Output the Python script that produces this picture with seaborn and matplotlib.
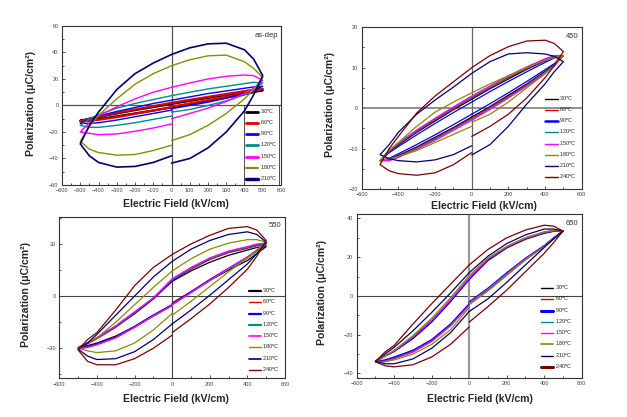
import matplotlib
matplotlib.use("Agg")
import matplotlib.pyplot as plt
import seaborn as sns
from matplotlib.ticker import MultipleLocator

# field sweep of one P-E loop: 0 -> +500 -> -500 -> 0 (kV/cm)
E_PATH = [0, 100, 200, 300, 400, 450, 500, 450, 400, 300, 200, 100, 0,
          -100, -200, -300, -400, -450, -500, -450, -400, -300, -200, -100, 0]

TEMPS = ["30", "60", "90", "120", "150", "180", "210", "240"]
COLORS = ["#000000", "#e00000", "#0000ff", "#008b8b", "#ff00ff", "#8b8b00", "#00006e", "#7a0000"]

# as-dep (no 240 C)
AD_30 = [-1.5, 1, 3.5, 6, 8.5, 10, 11.5, 11, 10, 8, 5.8, 3.5, 1.2, -1.2, -3.5, -6, -8.5, -10, -11.5, -11.2, -10.3, -8.2, -6, -3.8, -1.5]
AD_60 = [-1, 1.5, 4, 6.5, 9, 10.8, 12.5, 12, 10.8, 8.7, 6.5, 4.3, 2, -0.5, -3, -5.5, -8.5, -10, -12, -11.5, -10.8, -8.8, -6.3, -3.8, -1.2]
AD_90 = [-2.5, 0, 2.5, 5.5, 9, 11.5, 14.5, 14, 13, 11, 9, 6.5, 4, 1.5, -1.5, -4.5, -8, -10, -13.5, -13.5, -13, -11, -8.5, -6, -3.5]
AD_120 = [-5, -3, 0, 3.5, 8, 12, 17, 17.5, 16.5, 14.5, 12.5, 10, 7.4, 4.5, 1.5, -2, -7, -10, -15, -16.5, -16.5, -15, -13, -10.5, -8]
AD_150 = [-10, -6, -2, 3, 9, 13, 19, 22.5, 23, 22, 20, 17, 13.7, 10, 5, -1, -8, -13, -20, -21, -22, -21.5, -19.5, -17, -14]
AD_180 = [-26.5, -22, -15, -6, 5, 12, 21, 28, 33, 38, 37.5, 34.5, 30, 24, 16, 5, -7.5, -16, -27, -33, -35.5, -37.5, -37, -34, -30]
AD_210 = [-43.5, -40, -32, -20, -4, 8, 22.5, 35, 42, 47, 46.5, 43.5, 38.5, 32, 24, 12, -5, -15, -29, -38, -43, -46.5, -46, -43, -38]

# 450
P450_30 = [-2.2, 0.4, 3.2, 6.0, 9.1, 10.7, 13, 12.7, 11.7, 9.6, 7.2, 4.8, 2.2, -0.4, -3.2, -6.0, -9.1, -10.7, -13, -12.7, -11.7, -9.6, -7.2, -4.8, -2.2]
P450_60 = [-2.5, 0.2, 2.9, 5.8, 8.9, 10.6, 13, 12.8, 11.9, 9.8, 7.5, 5.0, 2.5, -0.2, -2.9, -5.8, -8.9, -10.6, -13, -12.8, -11.9, -9.8, -7.5, -5.0, -2.5]
P450_90 = [-1.5, 1.1, 3.8, 6.6, 9.5, 11.0, 13, 12.4, 11.3, 9.0, 6.6, 4.1, 1.5, -1.1, -3.8, -6.6, -9.5, -11.0, -13, -12.4, -11.3, -9.0, -6.6, -4.1, -1.5]
P450_120 = [-2.7, -0.1, 2.7, 5.6, 8.8, 10.5, 13, 12.9, 12.0, 10.0, 7.7, 5.2, 2.7, 0.1, -2.7, -5.6, -8.8, -10.5, -13, -12.9, -12.0, -10.0, -7.7, -5.2, -2.7]
P450_150 = [-3.0, -0.3, 2.5, 5.4, 8.6, 10.4, 13, 13.0, 12.2, 10.2, 8.0, 5.5, 3.0, 0.3, -2.5, -5.4, -8.6, -10.4, -13, -13.0, -12.2, -10.2, -8.0, -5.5, -3.0]
P450_180 = [-3.5, -1.5, 1.5, 5, 8.5, 10.5, 13, 12.5, 11.8, 10, 8, 6, 3.8, 1.5, -1, -4.5, -8.5, -10.5, -13, -12.5, -12, -10.5, -8.5, -6.5, -4.5]
P450_210 = [-11.6, -9, -4.5, 1, 6, 9, 11.5, 12.8, 13.4, 13.7, 13.4, 11.5, 8.6, 5.2, 2, -1.5, -6, -9, -11.5, -12.5, -13, -13.3, -12.8, -11.5, -9.3]
P450_240 = [-7, -4.5, -1.5, 2.5, 7.5, 10.5, 14, 16, 16.8, 16.6, 15.2, 13, 10, 6.5, 3, -1.2, -7, -10, -14, -15.5, -16.2, -16.6, -16, -14, -11]

# 550
P550_30 = [-4, 2.5, 9, 15, 20.5, 24.5, 28.5, 28, 26.5, 23.5, 19.5, 14.5, 8.5, -1.5, -10, -17.5, -24, -27, -29.5, -28.5, -27, -23, -17.5, -11, -5]
P550_60 = [-4, 2.5, 9.5, 16, 22, 26, 29.5, 29, 27.5, 25, 21, 15.5, 9, -1.5, -10, -18, -24.5, -27.5, -30, -29, -27.5, -23.5, -17.5, -11, -5]
P550_90 = [-4.5, 2.5, 9.5, 16, 22.5, 26.5, 30, 29.5, 28, 25.5, 21.5, 16, 9, -1.5, -10, -17.5, -24, -27, -30, -29, -27.5, -23.5, -17.5, -11, -5]
P550_120 = [-5, 2, 9, 15.5, 22, 26, 30, 29.5, 28, 25.5, 21.5, 16, 9.5, -1, -9.5, -17.5, -24, -27, -30, -29.5, -28, -24, -18, -11.5, -5.5]
P550_150 = [-5, 2, 9, 16, 22.5, 26.5, 30.5, 30, 28.5, 26, 22, 16.5, 10, -1, -9, -17, -24, -27, -30.5, -29.5, -28, -24, -18, -11.5, -5.5]
P550_180 = [-11, -3, 5.5, 14, 22, 26.5, 31, 32.5, 32.5, 30.5, 27, 21.5, 14.5, 5, -5, -15, -24, -27, -30, -31.5, -32.5, -31.5, -27, -19.5, -10]
P550_210 = [-16, -8, 0.5, 9.5, 18.5, 24.5, 31, 35.5, 37, 35.5, 32, 27, 20, 11, 0, -11, -22, -27, -30.5, -34.5, -36.5, -36, -32, -25, -16]
P550_240 = [-21, -13, -4.5, 5, 15.5, 23, 32, 38, 40, 39, 35, 30, 24, 16.5, 6, -8, -21, -25, -31, -37.5, -39.5, -39.5, -36, -30, -22.5]

# 650
P650_30 = [-3.5, 3.5, 11.5, 19, 25.5, 29.5, 33.5, 33.5, 32.5, 29.5, 25, 18.5, 9, -2.5, -13, -21.5, -28.5, -31, -34, -33.5, -32, -28.5, -23, -15, -4.5]
P650_60 = [-3.5, 3.5, 11.5, 19, 25.5, 29.5, 33.5, 33.3, 32.3, 29.2, 24.7, 18.2, 8.7, -2.8, -13.2, -21.8, -28.7, -31.2, -34, -33.5, -32, -28.5, -23, -15, -4.5]
P650_90 = [-3, 4, 12, 19.5, 26, 30, 33.5, 33.5, 32.5, 29.5, 25, 18.5, 8.5, -3, -13.5, -22, -28.5, -31, -34, -33, -31.5, -28, -22.5, -14.5, -4]
P650_120 = [-3.5, 3.5, 11.5, 19, 25.5, 29.5, 33.5, 33.7, 32.8, 29.8, 25.3, 19, 9.3, -2.2, -12.7, -21.2, -28.3, -31, -34, -33.7, -32.3, -28.8, -23.3, -15.3, -4.8]
P650_150 = [-4, 3, 11, 19, 25.5, 29.5, 33.5, 33.8, 33, 30, 25.5, 19.2, 9.5, -2, -12.5, -21, -28.2, -31, -34, -33.8, -32.5, -29, -23.5, -15.5, -5]
P650_180 = [-4.5, 2.5, 10.5, 18.5, 25.5, 29.5, 33.5, 33.8, 33, 30, 25.5, 19.5, 10.5, -1, -11.5, -20.5, -28, -31, -34, -34, -33, -30, -25, -17.5, -6]
P650_210 = [-8, -1.5, 7, 16, 25, 29.5, 33.5, 34.5, 34.5, 31.5, 27, 20.5, 12, 1.5, -8.5, -18, -26.5, -30, -33.5, -35, -35, -32.5, -27, -19, -8]
P650_240 = [-13.5, -5.5, 3, 12.5, 22, 27.5, 33.5, 36, 36.5, 34, 30, 24, 16, 6, -4, -14.5, -25.5, -29, -34, -36, -36.6, -35.5, -31.5, -25, -16]

sns.set_style("ticks")
plt.rcParams['font.family'] = ['Liberation Sans', 'DejaVu Sans']
plt.rcParams['axes.edgecolor'] = '#333333'
plt.rcParams['axes.linewidth'] = 0.8

fig = plt.figure(figsize=(6.27, 4.17), dpi=100)

panels = [
    # rect, curves, ylim, ymajor, yminor, tag, line widths, legend handle widths, zero line style, label coords
    dict(rect=[0.0989, 0.5564, 0.3493, 0.3813], curves=[AD_30, AD_60, AD_90, AD_120, AD_150, AD_180, AD_210],
         ylim=(-60, 60), ymaj=20, ymin=10, xmaj=100, xmin=50, tag="as-dep",
         lw=[1.6, 1.6, 1.0, 1.0, 1.0, 1.0, 1.2], hlw=[2, 2, 2, 2, 2, 1.5, 2.5],
         hz=('#555555', 0.9), vz=('#555555', 0.9), leg=(0.99, 0.0), frame=True,
         ylab=(-0.12, 0.51), xlab=(0.52, -0.088)),
    dict(rect=[0.5769, 0.5468, 0.3509, 0.3878], curves=[P450_30, P450_60, P450_90, P450_120, P450_150, P450_180, P450_210, P450_240],
         ylim=(-20, 20), ymaj=10, ymin=5, xmaj=200, xmin=100, tag="450",
         lw=[0.9] * 8, hlw=[1, 1, 1.8, 1, 1, 1, 1, 1],
         hz=('#888888', 1.3), vz=('#666666', 0.9), leg=(0.985, 0.035), frame=False,
         ylab=(-0.121, 0.52), xlab=(0.556, -0.074)),
    dict(rect=[0.0946, 0.0928, 0.3600, 0.3875], curves=[P550_30, P550_60, P550_90, P550_120, P550_150, P550_180, P550_210, P550_240],
         ylim=(-47.3, 45.7), ymaj=30, ymin=15, xmaj=200, xmin=100, tag="550",
         lw=[0.9] * 8, hlw=[1.6, 1, 1.6, 1.6, 1.2, 1, 1.2, 1],
         hz=('#444444', 0.8), vz=('#444444', 0.8), leg=(0.985, 0.015), frame=False,
         ylab=(-0.125, 0.52), xlab=(0.517, -0.097)),
    dict(rect=[0.5689, 0.0942, 0.3589, 0.3918], curves=[P650_30, P650_60, P650_90, P650_120, P650_150, P650_180, P650_210, P650_240],
         ylim=(-42.2, 42.1), ymaj=20, ymin=10, xmaj=200, xmin=100, tag="650",
         lw=[0.9] * 8, hlw=[1, 1, 2.2, 1, 1, 1.2, 1, 2.2],
         hz=('#444444', 0.8), vz=('#999999', 1.6), leg=(0.965, 0.03), frame=False,
         ylab=(-0.132, 0.52), xlab=(0.548, -0.1)),
]

for p in panels:
    ax = fig.add_axes(p['rect'])
    ax.axhline(0, color=p['hz'][0], lw=p['hz'][1], zorder=1)
    ax.axvline(0, color=p['vz'][0], lw=p['vz'][1], zorder=1)
    for i, vals in enumerate(p['curves']):
        sns.lineplot(x=E_PATH, y=vals, sort=False, estimator=None, color=COLORS[i],
                     lw=p['lw'][i], ax=ax, label=TEMPS[i] + r"$^\mathregular{o}$C", zorder=2 + i)
    ax.set_xlim(-600, 600)
    ax.set_ylim(*p['ylim'])
    ax.xaxis.set_major_locator(MultipleLocator(p['xmaj']))
    ax.xaxis.set_minor_locator(MultipleLocator(p['xmin']))
    ax.yaxis.set_major_locator(MultipleLocator(p['ymaj']))
    ax.yaxis.set_minor_locator(MultipleLocator(p['ymin']))
    ax.tick_params(which='both', direction='in', labelsize=4, labelcolor='#444444', color='#333333', width=0.6, pad=2.5)
    ax.tick_params(which='major', length=2.5)
    ax.tick_params(which='minor', length=1.3)
    ax.set_xlabel("Electric Field (kV/cm)", fontsize=7.6, fontweight='bold')
    ax.set_ylabel("Polarization (μC/cm²)", fontsize=7.6, fontweight='bold')
    ax.yaxis.set_label_coords(*p['ylab'])
    ax.xaxis.set_label_coords(*p['xlab'])
    ax.text(0.985, 0.965, p['tag'], transform=ax.transAxes, ha='right', va='top', fontsize=5.5, color='#333333')
    leg = ax.legend(loc='lower right', bbox_to_anchor=p['leg'], fontsize=4, frameon=p['frame'],
                    handlelength=2.2, handletextpad=0.3, labelspacing=0.55, borderaxespad=0.0,
                    borderpad=0.35, fancybox=False, edgecolor='#222222')
    if p['frame']:
        leg.get_frame().set_linewidth(0.7)
    for h, w in zip(leg.legend_handles, p['hlw']):
        h.set_linewidth(w)

fig.savefig("out.png", dpi=100)
